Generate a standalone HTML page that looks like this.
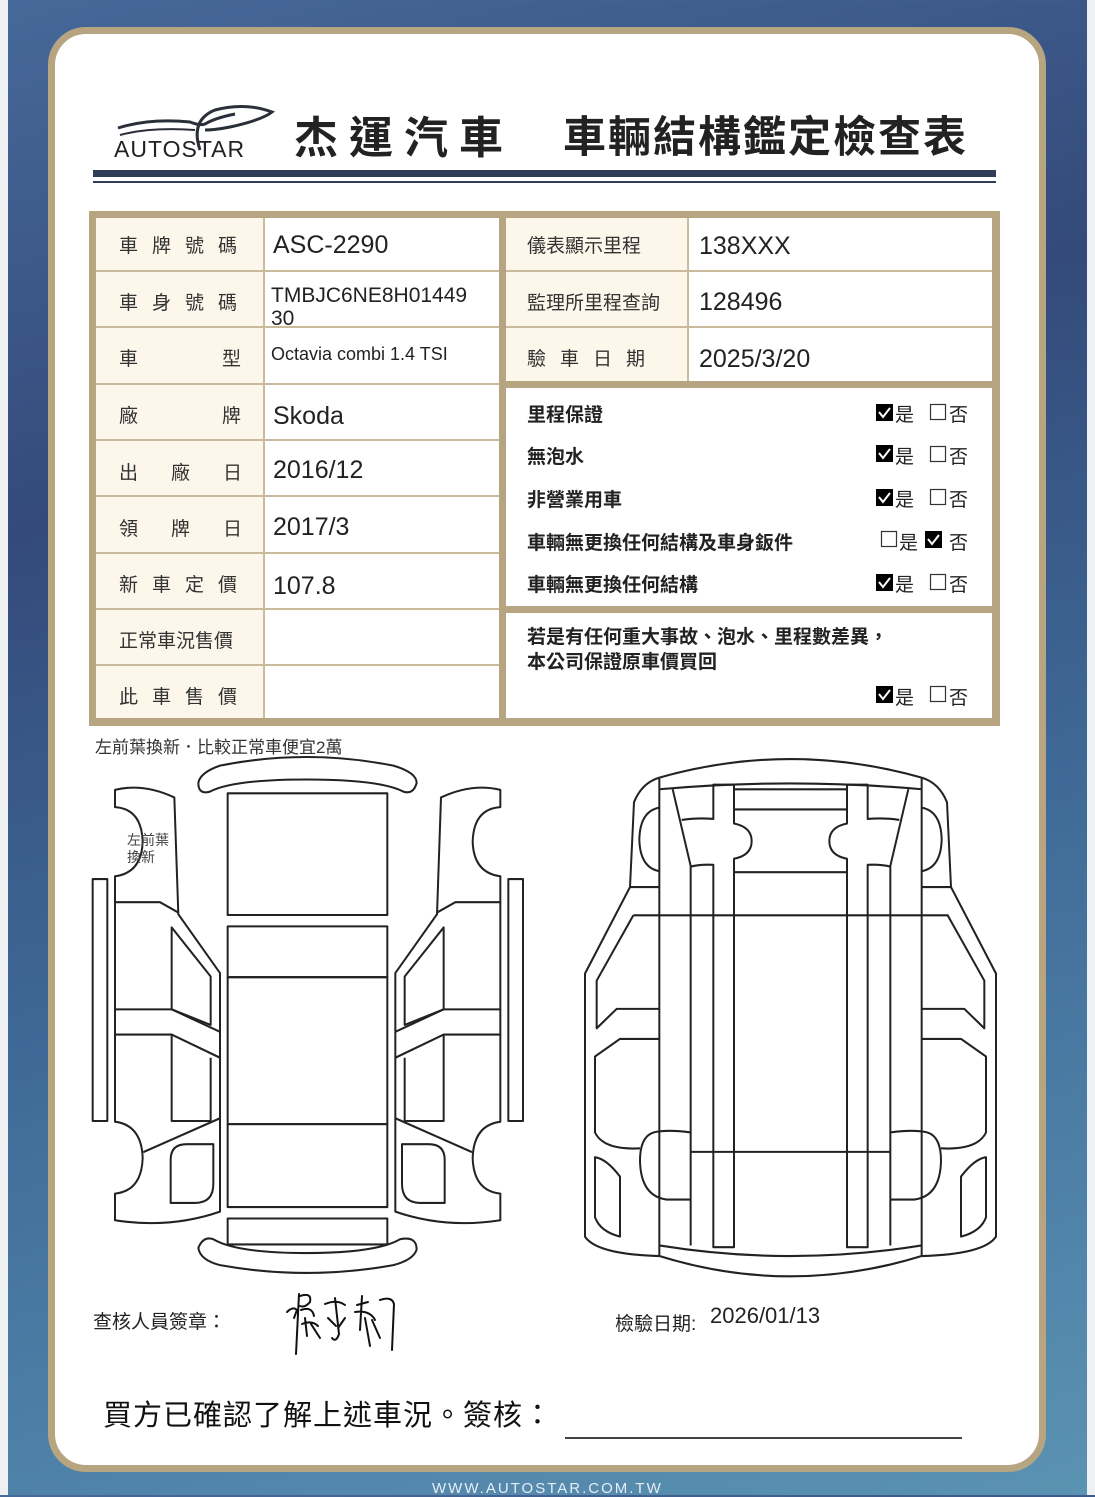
<!DOCTYPE html>
<html><head><meta charset="utf-8"><style>
html,body{margin:0;padding:0;}
body{width:1095px;height:1495px;overflow:hidden;position:relative;font-family:"Liberation Sans","Noto Sans CJK TC",sans-serif;background:linear-gradient(165deg,#46699a 0%,#334a7a 30%,#3f6a98 60%,#5b93b3 100%);}
.edge{position:absolute;top:0;width:8px;height:1495px;background:#eef0f2;}
.card{position:absolute;left:48px;top:27px;width:984px;height:1431px;background:#fff;border:7px solid #b6a580;border-radius:38px;}
.t{position:absolute;white-space:nowrap;color:#222;}
.cjk{font-family:"Liberation Sans","Noto Sans CJK TC",sans-serif;}
.lab{font-size:19px;color:#333;}
.val{font-size:25px;color:#222;}
.chk{font-size:19px;font-weight:bold;color:#222;}
</style></head><body>
<div class="edge" style="left:0"></div><div class="edge" style="right:0"></div>
<div class="card"></div>

<svg width="1095" height="1495" style="position:absolute;left:0;top:0" xmlns="http://www.w3.org/2000/svg">
 <path d="M118,128 Q150,118 190,122 Q200,126 205,124 Q215,118 235,114" fill="none" stroke="#2b2f3a" stroke-width="3"/>
 <path d="M120,135 Q150,127 195,130" fill="none" stroke="#2b2f3a" stroke-width="2"/>
 <path d="M200,150 Q190,120 215,110 Q245,102 272,112 Q262,120 230,127 Q215,130 205,130" fill="none" stroke="#2b2f3a" stroke-width="3"/>
 <rect x="93" y="170" width="903" height="7" fill="#2f3d58"/>
 <rect x="93" y="181" width="903" height="2" fill="#2f3d58"/>
 <rect x="89" y="211" width="911" height="515" fill="#b6a580"/>
 <rect x="96" y="218" width="403" height="500" fill="#fdf6ea"/>
 <rect x="265" y="218" width="234" height="500" fill="#fff"/>
 <g stroke="#c9bb9c" stroke-width="2">
  <line x1="96" y1="271" x2="499" y2="271"/><line x1="96" y1="327" x2="499" y2="327"/>
  <line x1="96" y1="384" x2="499" y2="384"/><line x1="96" y1="440" x2="499" y2="440"/>
  <line x1="96" y1="496" x2="499" y2="496"/><line x1="96" y1="553" x2="499" y2="553"/>
  <line x1="96" y1="609" x2="499" y2="609"/><line x1="96" y1="665" x2="499" y2="665"/>
  <line x1="264" y1="218" x2="264" y2="718"/>
 </g>
 <rect x="506" y="218" width="486" height="163" fill="#fdf6ea"/>
 <rect x="689" y="218" width="303" height="163" fill="#fff"/>
 <g stroke="#c9bb9c" stroke-width="2">
  <line x1="506" y1="271" x2="992" y2="271"/><line x1="506" y1="327" x2="992" y2="327"/>
  <line x1="688" y1="218" x2="688" y2="381"/>
 </g>
 <rect x="506" y="388" width="486" height="218" fill="#fff"/>
 <rect x="506" y="613" width="486" height="105" fill="#fff"/>
 <g stroke="#333" stroke-width="1.2" fill="#fff">
  <rect x="930.5" y="404.5" width="15" height="15"/><rect x="930.5" y="446.5" width="15" height="15"/>
  <rect x="930.5" y="489.5" width="15" height="15"/><rect x="881.5" y="531.5" width="15" height="15"/>
  <rect x="930.5" y="574.5" width="15" height="15"/><rect x="930.5" y="686.5" width="15" height="15"/>
 </g>
 <g fill="#000">
  <rect x="876" y="404" width="17" height="17"/><rect x="876" y="445" width="17" height="17"/>
  <rect x="876" y="489" width="17" height="17"/><rect x="925" y="531" width="17" height="17"/>
  <rect x="876" y="574" width="17" height="17"/><rect x="876" y="686" width="17" height="17"/>
 </g>
 <g stroke="#fff" stroke-width="2" fill="none">
  <path d="M879,412 l4,5 l7,-9"/><path d="M879,453 l4,5 l7,-9"/><path d="M879,497 l4,5 l7,-9"/>
  <path d="M928,539 l4,5 l7,-9"/><path d="M879,582 l4,5 l7,-9"/><path d="M879,694 l4,5 l7,-9"/>
 </g>

 <svg x="80" y="738" width="460" height="560" viewBox="0 0 1380 1620" preserveAspectRatio="none">
  <g fill="none" stroke="#222" stroke-width="6" stroke-linejoin="round">
   <path d="M355,130 Q360,100 420,80 Q680,30 940,80 Q1010,100 1010,130 Q1000,165 970,155 Q900,120 680,120 Q460,120 390,155 Q355,165 355,130 Z"/>
   <path d="M355,1475 Q370,1440 400,1450 Q470,1490 680,1490 Q890,1490 960,1450 Q1010,1440 1010,1480 Q1000,1510 940,1525 Q680,1570 420,1525 Q360,1510 355,1475 Z"/>
   <rect x="443" y="160" width="479" height="352"/>
   <rect x="443" y="545" width="479" height="147"/>
   <rect x="443" y="692" width="479" height="425"/>
   <rect x="443" y="1117" width="479" height="240"/>
   <rect x="443" y="1390" width="479" height="75"/>
   <rect x="38" y="408" width="44" height="700"/>
   <rect x="1285" y="408" width="44" height="700"/>
   <g id="door">
    <path d="M105,150 Q190,130 283,172 L295,510 L420,680 L420,1370 Q270,1420 105,1395 L105,1318 Q185,1310 188,1215 Q185,1120 105,1110 L105,400 Q185,390 188,300 Q185,205 105,200 Z"/>
    <path d="M105,475 L240,475 L295,505"/>
    <path d="M275,548 L392,690 L392,830 L275,785 Z"/>
    <path d="M105,785 L275,785 L420,850"/>
    <path d="M105,858 L275,858 L420,925"/>
    <path d="M275,858 L275,1108 L392,1108 L392,925"/>
    <path d="M190,1198 L420,1100"/>
    <path d="M272,1345 L272,1220 Q272,1175 320,1175 L400,1175 L400,1290 Q400,1345 345,1345 Z"/>
   </g>
   <use href="#door" transform="translate(1366,0) scale(-1,1)"/>
  </g>
 </svg>

 <svg x="570" y="737" width="450" height="572" viewBox="0 0 1350 1620" preserveAspectRatio="none">
  <g fill="none" stroke="#222" stroke-width="6" stroke-linejoin="round">
   <path d="M268,115 Q660,10 1055,115"/>
   <path d="M268,148 Q660,115 1055,148"/>
   <path d="M268,1470 Q660,1585 1055,1470"/>
   <path d="M268,1440 Q660,1500 1055,1440"/>
   <line x1="268" y1="115" x2="268" y2="1470"/><line x1="1055" y1="115" x2="1055" y2="1470"/>
   <line x1="492" y1="148" x2="828" y2="148"/><line x1="492" y1="205" x2="828" y2="205"/>
   <line x1="492" y1="383" x2="828" y2="383"/>
   <line x1="190" y1="505" x2="1135" y2="505"/>
   <line x1="362" y1="1175" x2="962" y2="1175"/>
   <g id="half">
    <path d="M268,115 Q215,130 192,185 L180,425 L45,670 L45,1415 Q80,1465 268,1470"/>
    <path d="M268,200 Q210,210 208,290 Q210,370 268,380"/>
    <path d="M180,425 L268,425"/>
    <path d="M190,505 L80,690 L80,825 L140,770 L268,770"/>
    <path d="M268,855 L150,855 L75,905 L75,1120 Q100,1170 210,1165"/>
    <path d="M362,1120 Q300,1112 260,1118 Q210,1125 210,1200 Q212,1300 290,1310 L362,1310"/>
    <path d="M75,1190 Q110,1195 150,1245 L150,1415 Q90,1400 75,1360 Z"/>
    <path d="M308,148 L362,365 L362,1440"/>
    <path d="M335,235 Q380,228 430,232 L430,135 L492,135 L492,245 Q545,255 545,295 Q545,335 492,345 L492,1445 L430,1445 L430,362 Q390,360 362,367"/>
   </g>
   <use href="#half" transform="translate(1323,0) scale(-1,1)"/>
  </g>
 </svg>

 <g fill="none" stroke="#111" stroke-width="2" stroke-linecap="round">
  <path d="M287,1312 Q293,1306 297,1310 L294,1318"/>
  <path d="M299,1294 L296,1354"/>
  <path d="M300,1296 Q312,1292 310,1302 Q305,1308 300,1306"/>
  <path d="M301,1310 Q312,1306 314,1316 M305,1318 L307,1336 M302,1324 Q312,1320 318,1326 M311,1324 L320,1338"/>
  <path d="M325,1304 Q337,1299 345,1305 M335,1298 L339,1334 Q336,1343 332,1338 M328,1318 L336,1326 M345,1318 L338,1328"/>
  <path d="M357,1305 L368,1302 M362,1296 L360,1330 M355,1312 Q370,1310 375,1320 M365,1318 L370,1346 M372,1320 L380,1338"/>
  <path d="M380,1300 Q392,1296 394,1304 L392,1350"/>
 </g>
 <rect x="565" y="1437" width="397" height="2" fill="#444"/>
</svg>

<div class="t" style="left:114px;top:136px;font-size:23px;letter-spacing:1px;color:#222;">AUTOSTAR</div>
<div class="t cjk" style="left:294px;top:102px;font-size:44px;font-weight:bold;letter-spacing:11px;color:#222;">杰運汽車</div>
<div class="t cjk" style="left:563px;top:103px;font-size:43px;font-weight:bold;letter-spacing:2px;color:#222;">車輛結構鑑定檢查表</div>

<div class="t lab" style="left:119px;top:231px;letter-spacing:14px">車牌號碼</div>
<div class="t lab" style="left:119px;top:288px;letter-spacing:14px">車身號碼</div>
<div class="t lab" style="left:119px;top:344px">車</div><div class="t lab" style="left:222px;top:344px">型</div>
<div class="t lab" style="left:119px;top:401px">廠</div><div class="t lab" style="left:222px;top:401px">牌</div>
<div class="t lab" style="left:119px;top:458px;letter-spacing:33px">出廠日</div>
<div class="t lab" style="left:119px;top:514px;letter-spacing:33px">領牌日</div>
<div class="t lab" style="left:119px;top:570px;letter-spacing:14px">新車定價</div>
<div class="t lab" style="left:119px;top:626px">正常車況售價</div>
<div class="t lab" style="left:119px;top:682px;letter-spacing:14px">此車售價</div>

<div class="t val" style="left:273px;top:231px">ASC-2290</div>
<div class="t" style="left:271px;top:284px;font-size:21px;line-height:23px;">TMBJC6NE8H01449<br>30</div>
<div class="t" style="left:271px;top:344px;font-size:18px">Octavia combi 1.4 TSI</div>
<div class="t val" style="left:273px;top:402px">Skoda</div>
<div class="t val" style="left:273px;top:456px">2016/12</div>
<div class="t val" style="left:273px;top:513px">2017/3</div>
<div class="t val" style="left:273px;top:572px">107.8</div>

<div class="t lab" style="left:527px;top:231px">儀表顯示里程</div>
<div class="t lab" style="left:527px;top:288px">監理所里程查詢</div>
<div class="t lab" style="left:527px;top:344px;letter-spacing:14px">驗車日期</div>
<div class="t val" style="left:699px;top:232px">138XXX</div>
<div class="t val" style="left:699px;top:288px">128496</div>
<div class="t val" style="left:699px;top:345px">2025/3/20</div>

<div class="t chk" style="left:527px;top:400px">里程保證</div>
<div class="t chk" style="left:527px;top:442px">無泡水</div>
<div class="t chk" style="left:527px;top:485px">非營業用車</div>
<div class="t chk" style="left:527px;top:528px">車輛無更換任何結構及車身鈑件</div>
<div class="t chk" style="left:527px;top:570px">車輛無更換任何結構</div>
<div class="t chk" style="left:527px;top:625px;line-height:25px">若是有任何重大事故、泡水、里程數差異，<br>本公司保證原車價買回</div>
<div class="t" style="left:895px;top:400px;font-size:19px">是</div><div class="t" style="left:949px;top:400px;font-size:19px">否</div>
<div class="t" style="left:895px;top:442px;font-size:19px">是</div><div class="t" style="left:949px;top:442px;font-size:19px">否</div>
<div class="t" style="left:895px;top:485px;font-size:19px">是</div><div class="t" style="left:949px;top:485px;font-size:19px">否</div>
<div class="t" style="left:899px;top:528px;font-size:19px">是</div><div class="t" style="left:949px;top:528px;font-size:19px">否</div>
<div class="t" style="left:895px;top:570px;font-size:19px">是</div><div class="t" style="left:949px;top:570px;font-size:19px">否</div>
<div class="t" style="left:895px;top:683px;font-size:19px">是</div><div class="t" style="left:949px;top:683px;font-size:19px">否</div>

<div class="t" style="left:95px;top:733px;font-size:17px;color:#333">左前葉換新．比較正常車便宜2萬</div>
<div class="t" style="left:127px;top:832px;font-size:14px;line-height:17px;color:#444">左前葉<br>換新</div>

<div class="t" style="left:93px;top:1307px;font-size:19px">查核人員簽章：</div>
<div class="t" style="left:615px;top:1309px;font-size:19px">檢驗日期:</div>
<div class="t" style="left:710px;top:1303px;font-size:22px">2026/01/13</div>
<div class="t" style="left:103px;top:1392px;font-size:29px;letter-spacing:1px;color:#111">買方已確認了解上述車況。簽核：</div>
<div class="t" style="left:432px;top:1480px;font-size:15px;letter-spacing:2px;color:#e6eef5">WWW.AUTOSTAR.COM.TW</div>
</body></html>
